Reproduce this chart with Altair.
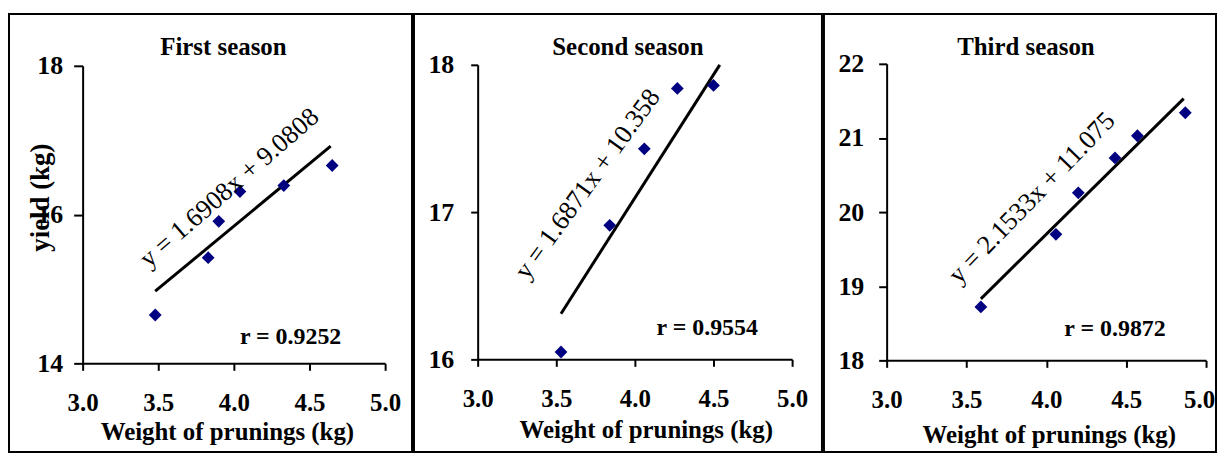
import altair as alt
import pandas as pd

# ---------------- data ----------------
SEASONS = ["First season", "Second season", "Third season"]

S1_X = [3.48, 3.83, 3.90, 4.04, 4.33, 4.65]
S1_Y = [14.65, 15.42, 15.91, 16.31, 16.39, 16.66]
S2_X = [3.53, 3.84, 4.06, 4.27, 4.50]
S2_Y = [16.05, 16.91, 17.43, 17.84, 17.86]
S3_X = [3.59, 4.06, 4.20, 4.43, 4.57, 4.87]
S3_Y = [18.72, 19.70, 20.26, 20.73, 21.03, 21.34]

FIT_X = [[3.48, 4.64], [3.53, 4.54], [3.59, 4.86]]
FIT_Y = [[14.97, 16.92], [16.31, 18.00], [18.83, 21.53]]

EQUATIONS = ["y = 1.6908x + 9.0808", "y = 1.6871x + 10.358", "y = 2.1533x + 11.075"]
EQ_X = [3.97, 3.70, 3.91]
EQ_Y = [16.36, 17.19, 20.19]
EQ_ANGLE = [319, 306, 314]

R_LABELS = ["r = 0.9252", "r = 0.9554", "r = 0.9872"]
R_X = [4.375, 4.46, 4.43]
R_Y = [14.35, 16.21, 18.42]

X_TICKS = [3.0, 3.5, 4.0, 4.5, 5.0]
Y_TICKS = [[14.0, 16.0, 18.0], [16.0, 17.0, 18.0], [18.0, 19.0, 20.0, 21.0, 22.0]]

X_TITLE = "Weight of prunings (kg)"
Y_TITLE = "yield (kg)"

# ---------------- layout (pixels) ----------------
H = 440
VIEW_W = [405, 410, 394]
X_RANGE = [(74, 378), (64, 380), (63, 384)]
Y_RANGE = [(351, 52), (347, 51), (348, 50)]
X_LEFT = [74, 64, 63]
Y_TICK_SIZE = [9, 7, 8]
Y_LABEL_PAD = [11, 17, 15]
X_TITLE_POS = [(219, 77), (233, 79), (226, 83)]
TITLE_DX = [13, 10, 6]
LAST_LABEL_SHIFT = [0, 0, -7]

FONT = "Liberation Serif"
NAVY = "#000080"

ALL_X = [S1_X, S2_X, S3_X]
ALL_Y = [S1_Y, S2_Y, S3_Y]


def panel(i):
    rows = []
    for xv, yv in zip(ALL_X[i], ALL_Y[i]):
        rows.append({"x": xv, "y": yv, "kind": "pt", "t": ""})
    for xv, yv in zip(FIT_X[i], FIT_Y[i]):
        rows.append({"x": xv, "y": yv, "kind": "fit", "t": ""})
    rows.append({"x": EQ_X[i], "y": EQ_Y[i], "kind": "eq", "t": EQUATIONS[i]})
    rows.append({"x": R_X[i], "y": R_Y[i], "kind": "r", "t": R_LABELS[i]})
    df = pd.DataFrame(rows)

    xr = X_RANGE[i]
    yr = Y_RANGE[i]
    yt = Y_TICKS[i]

    x_axis = alt.Axis(
        values=X_TICKS, format=".1f", orient="bottom", offset=yr[0] - H,
        tickCount=10, tickSize=7, labelPadding=20, labelFontSize=25,
        labelOverlap=False, labelFlush=False, labelBound=False,
        labelOffset={"condition": {"test": "datum.value >= 5", "value": LAST_LABEL_SHIFT[i]}, "value": 0},
        title=X_TITLE, titleX=X_TITLE_POS[i][0], titleY=X_TITLE_POS[i][1],
        titleAlign="center", titleBaseline="alphabetic", titleFontSize=25,
    )
    if i == 0:
        y_axis = alt.Axis(
            values=yt, format=".0f", orient="left", offset=-X_LEFT[i], tickCount=10,
            tickSize=Y_TICK_SIZE[i], labelPadding=Y_LABEL_PAD[i], labelFontSize=26,
            labelOverlap=False, labelFlush=False, labelBound=False,
            title=Y_TITLE, titleAngle=270, titleX=-34, titleY=184,
            titleAlign="center", titleBaseline="alphabetic", titleFontSize=27,
        )
    else:
        y_axis = alt.Axis(
            values=yt, format=".0f", orient="left", offset=-X_LEFT[i], tickCount=10,
            tickSize=Y_TICK_SIZE[i], labelPadding=Y_LABEL_PAD[i], labelFontSize=26,
            labelOverlap=False, labelFlush=False, labelBound=False, title="",
        )

    base = alt.Chart(df).encode(
        x=alt.X("x:Q", scale=alt.Scale(domain=[3, 5], range=[xr[0], xr[1]], nice=False, zero=False), axis=x_axis),
        y=alt.Y("y:Q", scale=alt.Scale(domain=[yt[0], yt[-1]], range=[yr[0], yr[1]], nice=False, zero=False), axis=y_axis),
    )

    fit = base.transform_filter(alt.datum.kind == "fit").mark_line(color="black", strokeWidth=3)
    pts = base.transform_filter(alt.datum.kind == "pt").mark_point(
        shape="diamond", filled=True, color=NAVY, size=165, opacity=1)
    eq = base.transform_filter(alt.datum.kind == "eq").mark_text(
        font=FONT, fontSize=26.5, angle=EQ_ANGLE[i], align="center", baseline="middle", color="black"
    ).encode(text="t:N")
    rt = base.transform_filter(alt.datum.kind == "r").mark_text(
        font=FONT, fontSize=24, fontWeight="bold", align="center", baseline="middle", color="black"
    ).encode(text="t:N")

    return alt.layer(fit, pts, eq, rt).properties(
        width=VIEW_W[i], height=H,
        title=alt.TitleParams(
            text=SEASONS[i], font=FONT, fontSize=25, fontWeight="bold", color="black",
            anchor="middle", frame="group", offset=-66, baseline="alphabetic", dx=TITLE_DX[i],
        ),
    )


chart = alt.hconcat(panel(0), panel(1), panel(2), spacing=0).properties(
    padding={"left": 0, "top": 4, "right": 0, "bottom": 0}
).configure_view(
    stroke="black", strokeWidth=2
).configure_axis(
    grid=False, domainColor="black", domainWidth=2, tickColor="black", tickWidth=2,
    labelFont=FONT, labelFontWeight="bold", labelColor="black",
    titleFont=FONT, titleFontWeight="bold", titleColor="black",
)

chart.save("out.html", embed_options={"renderer": "svg", "actions": False})
